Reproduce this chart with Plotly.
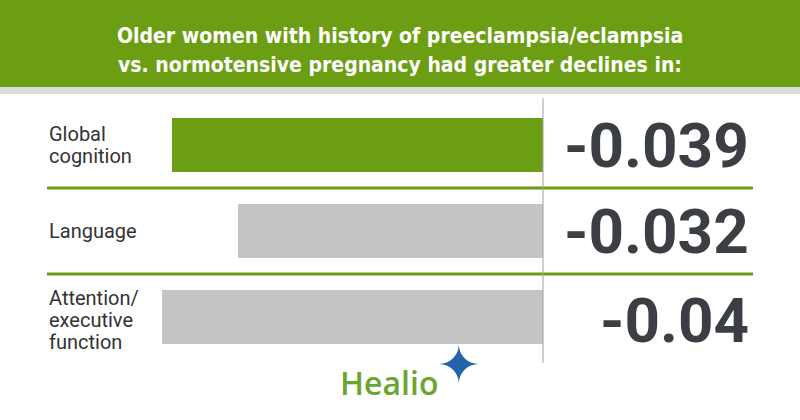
import plotly.graph_objects as go

# ---- data ----
categories = ["Global cognition", "Language", "Attention/executive function"]
label_text = ["Global<br>cognition", "Language", "Attention/<br>executive<br>function"]
values = [-0.039, -0.032, -0.04]
value_labels = ["-0.039", "-0.032", "-0.04"]
bar_colors = ["#6b9e13", "#c4c4c4", "#c4c4c4"]
title_lines = ["Older women with history of preeclampsia/eclampsia",
               "vs. normotensive pregnancy had greater declines in:"]

GREEN = "#6b9e13"
W, H = 800, 420
PX_PER_UNIT = 9525
ZERO_PX = 543
ROW0_PX, ROW_STEP = 145, 86


def py(px):
    return 1 - px / H


fig = go.Figure()
fig.add_trace(go.Bar(
    x=values, y=categories, orientation="h",
    marker=dict(color=bar_colors, line=dict(width=0)),
    width=0.62, hoverinfo="skip", showlegend=False,
))

shapes = []
shapes.append(dict(type="rect", xref="paper", yref="paper", x0=0, x1=1,
                   y0=py(87), y1=1, fillcolor=GREEN, line=dict(width=0), layer="below"))
shapes.append(dict(type="rect", xref="paper", yref="paper", x0=0, x1=1,
                   y0=py(94), y1=py(87), fillcolor="#dcdcdc", line=dict(width=0), layer="below"))
for yv in [0.5, 1.5]:
    shapes.append(dict(type="line", xref="paper", yref="y", x0=47 / W, x1=753 / W,
                       y0=yv, y1=yv, line=dict(color=GREEN, width=3)))
shapes.append(dict(type="line", xref="x", yref="paper", x0=0, x1=0,
                   y0=py(98), y1=py(363), line=dict(color="#a0a0a0", width=1)))

annotations = []
title_font = dict(family="DejaVu Sans Condensed, Liberation Sans Narrow, sans-serif",
                  size=21, color="white", weight="bold")
for i, line in enumerate(title_lines):
    annotations.append(dict(xref="paper", yref="paper", x=0.5, y=py(36 + 29 * i),
                            text=line, showarrow=False, font=title_font,
                            xanchor="center", yanchor="middle"))

LINE_H = 22
for i, (cat, lab, vl) in enumerate(zip(categories, label_text, value_labels)):
    parts = lab.split("<br>")
    n = len(parts)
    for k, part in enumerate(parts):
        annotations.append(dict(xref="paper", yref="y", x=47 / W, y=cat, text=part,
                                showarrow=False, xanchor="left", yanchor="middle", align="left",
                                yshift=-((k - (n - 1) / 2) * LINE_H) - (3 if n == 3 else 0),
                                font=dict(family="Roboto, sans-serif", size=20, color="#333333")))
    annotations.append(dict(xref="paper", yref="y", x=751 / W, y=cat, text=vl,
                            showarrow=False, xanchor="right", yanchor="middle", align="right",
                            yshift=(-3 if i == 2 else 0),
                            font=dict(family="Roboto, sans-serif", size=62, color="#3b3e42",
                                      weight="bold")))
# logo
annotations.append(dict(xref="paper", yref="paper", x=338 / W, y=py(382), text="Healio",
                        showarrow=False, xanchor="left", yanchor="middle",
                        font=dict(family="Open Sans, sans-serif", size=32, color="#6aa532",
                                  weight=600)))
annotations.append(dict(xref="paper", yref="paper", x=459 / W, y=py(365), text="✦",
                        showarrow=False, xanchor="center", yanchor="middle",
                        font=dict(family="DejaVu Sans", size=52, color="#2363a8")))

fig.update_layout(
    width=W, height=H, margin=dict(l=0, r=0, t=0, b=0),
    paper_bgcolor="white", plot_bgcolor="white",
    xaxis=dict(range=[-ZERO_PX / PX_PER_UNIT, (W - ZERO_PX) / PX_PER_UNIT],
               visible=False, fixedrange=True),
    yaxis=dict(type="category", categoryorder="array", categoryarray=categories,
               range=[(H - ROW0_PX) / ROW_STEP, -ROW0_PX / ROW_STEP],
               visible=False, fixedrange=True),
    shapes=shapes, annotations=annotations, bargap=0,
)

fig.write_html("out.html", config={"displayModeBar": False},
               post_script="document.body.style.margin='0';document.body.style.overflow='hidden';")
